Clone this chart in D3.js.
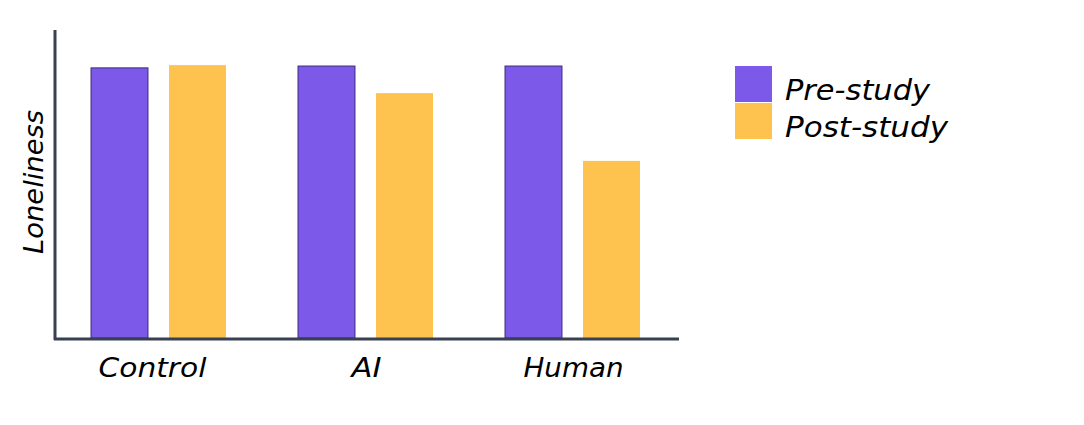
<!DOCTYPE html>
<html><head><meta charset="utf-8">
<script src="https://cdn.jsdelivr.net/npm/d3@7"></script>
<style>body{margin:0;background:#fff}svg{display:block}text{font-family:"DejaVu Sans",sans-serif;font-style:italic;fill:#000}</style>
</head><body><div id="c"></div>
<script>
const categories = ["Control", "AI", "Human"];
const seriesNames = ["Pre-study", "Post-study"];
const preStudy = [0.877, 0.883, 0.883];
const postStudy = [0.886, 0.795, 0.575];
const yLabel = "Loneliness";
const colors = ["#7d59ea", "#fdc34e"];

const W = 1084, H = 425;
const svg = d3.select("#c").append("svg").attr("width", W).attr("height", H);

const x0 = d3.scaleBand().domain(categories).range([55, 676]).paddingInner(0.348).paddingOuter(0.174);
const x1 = d3.scaleBand().domain(seriesNames).range([0, x0.bandwidth()]).paddingInner(0.27).paddingOuter(0);
const y = d3.scaleLinear().domain([0, 1]).range([338, 30]);
const color = d3.scaleOrdinal().domain(seriesNames).range(colors);

const rows = categories.map((c, i) => ({cat: c, vals: [
  {s: seriesNames[0], v: preStudy[i]}, {s: seriesNames[1], v: postStudy[i]}]}));

const g = svg.append("g").selectAll("g").data(rows).join("g")
  .attr("transform", d => `translate(${x0(d.cat)},0)`);
g.selectAll("rect").data(d => d.vals).join("rect")
  .attr("x", d => x1(d.s)).attr("width", x1.bandwidth())
  .attr("y", d => y(d.v)).attr("height", d => y(0) - y(d.v))
  .attr("fill", d => color(d.s))
  .attr("stroke", d => d.s === seriesNames[0] ? "#3b2a7a" : "none")
  .attr("stroke-width", 1);

// axes
const xAxis = d3.axisBottom(x0).tickSize(0).tickPadding(0);
const xg = svg.append("g").attr("transform", "translate(0,339)").call(xAxis);
xg.select(".domain").attr("d", "M54,0H679").attr("stroke", "#374151").attr("stroke-width", 3);
xg.selectAll(".tick text").attr("y", 38).attr("dy", 0).attr("font-size", 26)
  .attr("x", d => ({Control: -6, AI: 1, Human: 1})[d])
  .style("font-family", "'DejaVu Sans',sans-serif").style("font-style", "italic").attr("fill", "#000")
  .attr("textLength", d => ({Control: 108, AI: 30, Human: 100})[d]).attr("lengthAdjust", "spacingAndGlyphs");

const yAxis = d3.axisLeft(y).ticks(0).tickSize(0);
const yg = svg.append("g").attr("transform", "translate(55,0)").call(yAxis);
yg.select(".domain").attr("d", "M0,30V340").attr("stroke", "#374151").attr("stroke-width", 3);
yg.selectAll(".tick").remove();

svg.append("text").attr("transform", "translate(43,182) rotate(-90)")
  .attr("text-anchor", "middle").attr("font-size", 26)
  .attr("textLength", 144).attr("lengthAdjust", "spacingAndGlyphs").text(yLabel);

// legend
const lg = svg.append("g").selectAll("g").data(seriesNames).join("g")
  .attr("transform", (d, i) => `translate(735,${66 + i * 37})`);
lg.append("rect").attr("width", 37).attr("height", 36).attr("fill", d => color(d));
lg.append("text").attr("x", 50).attr("y", 34).attr("font-size", 28)
  .attr("textLength", (d, i) => i === 0 ? 145 : 163).attr("lengthAdjust", "spacingAndGlyphs")
  .text(d => d);
</script></body></html>
